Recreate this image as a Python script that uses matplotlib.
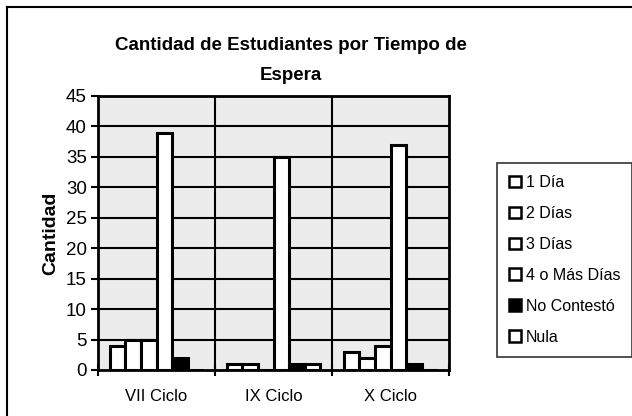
import matplotlib
matplotlib.use('Agg')
import matplotlib.pyplot as plt
import numpy as np
from matplotlib.patches import Patch
from matplotlib.lines import Line2D

plt.rcParams['font.family'] = ['Liberation Sans', 'DejaVu Sans']

# data
ciclos = ['VII Ciclo', 'IX Ciclo', 'X Ciclo']
series = ['1 Día', '2 Días', '3 Días', '4 o Más Días', 'No Contestó', 'Nula']
uno_dia = [4, 1, 3]
dos_dias = [5, 1, 2]
tres_dias = [5, 0, 4]
cuatro_mas = [39, 35, 37]
no_contesto = [2, 1, 1]
nula = [0, 1, 0]
valores = [uno_dia, dos_dias, tres_dias, cuatro_mas, no_contesto, nula]
colores = ['white', 'white', 'white', 'white', 'black', 'white']

fig = plt.figure(figsize=(6.32, 4.16), dpi=100)
ax = fig.add_axes([98 / 632, 1 - 370 / 416, (449 - 98) / 632, (370 - 96) / 416])
ax.set_facecolor('#ececec')

x = np.arange(len(ciclos)) + 0.5
w = 1 / 7.5
for i, (vals, c) in enumerate(zip(valores, colores)):
    ax.bar(x + (i - 2.5) * w, vals, w, color=c, edgecolor='black',
           linewidth=2.2, zorder=3)

ax.set_xlim(0, 3)
ax.set_ylim(0, 45)
ax.set_yticks(range(0, 46, 5))
ax.set_xticks([0, 1, 2, 3])
ax.set_xticklabels([])
ax.set_xticks(x, minor=True)
ax.set_xticklabels(ciclos, minor=True, fontsize=12)
ax.tick_params(axis='x', which='minor', length=0, pad=14)
ax.tick_params(axis='x', which='major', direction='inout', length=8, width=1.5)
ax.tick_params(axis='y', direction='out', length=5, width=1.5, labelsize=13.5, pad=3)

for yv in range(5, 46, 5):
    ax.axhline(yv, color='black', linewidth=1.5, zorder=1)
for xv in [1, 2]:
    ax.axvline(xv, color='black', linewidth=1.5, zorder=1)
for s in ax.spines.values():
    s.set_linewidth(2)

ax.set_ylabel('Cantidad', fontsize=14, fontweight='bold', labelpad=5)

fig.text(0.461, 1 - 45 / 416, 'Cantidad de Estudiantes por Tiempo de',
         ha='center', va='center', fontsize=13.5, fontweight='bold')
fig.text(0.461, 1 - 75 / 416, 'Espera',
         ha='center', va='center', fontsize=13.5, fontweight='bold')

handles = [Patch(facecolor=c, edgecolor='black', linewidth=1.8) for c in colores]
leg = fig.legend(handles, series, loc='upper left',
                 bbox_to_anchor=(497 / 632, 1 - 163 / 416),
                 fontsize=11.5, frameon=True, fancybox=False,
                 handlelength=0.75, handleheight=0.75, handletextpad=0.3,
                 labelspacing=1.0, borderpad=0.75, borderaxespad=0)
leg.get_frame().set_edgecolor('black')
leg.get_frame().set_linewidth(1.2)

# outer border of the chart
fig.add_artist(Line2D([7 / 632, 7 / 632], [0, 1 - 7 / 416], color='black',
                      linewidth=1.5, transform=fig.transFigure))
fig.add_artist(Line2D([7 / 632, 1], [1 - 7 / 416, 1 - 7 / 416], color='black',
                      linewidth=1.5, transform=fig.transFigure))

fig.savefig('out.png', dpi=100)
